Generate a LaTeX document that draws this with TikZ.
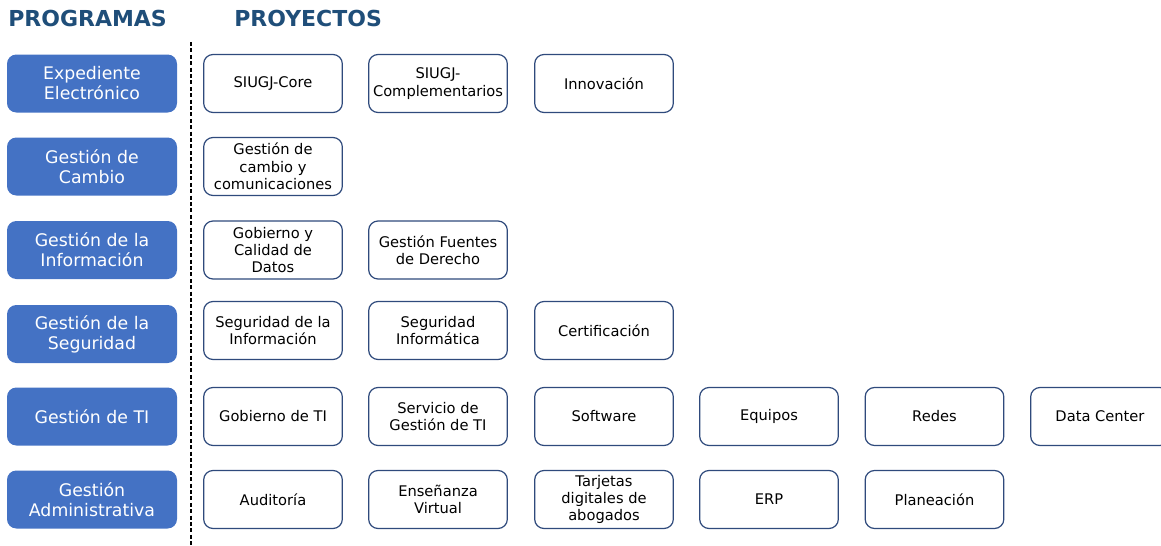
\documentclass[tikz,border=0pt]{standalone}
\usepackage{fontspec}
\setmainfont{DejaVu Sans}
\definecolor{progblue}{HTML}{4472C4}
\definecolor{titleblue}{HTML}{1F4E79}
\definecolor{projline}{HTML}{2F4A7C}
\tikzset{
  programa/.style={rectangle, rounded corners=7pt, fill=progblue, text=white,
    minimum width=127.5pt, minimum height=43.5pt, inner sep=0pt, align=center,
    font=\fontsize{13}{15}\selectfont},
  proyecto/.style={rectangle, rounded corners=7pt, draw=projline, line width=0.9pt,
    fill=white, minimum width=104pt, minimum height=43.5pt, inner sep=0pt,
    align=center, font=\fontsize{11}{13}\selectfont},
  titulo/.style={anchor=west, inner sep=0pt, text=titleblue,
    font=\fontsize{16.5}{19}\bfseries\selectfont}
}
\begin{document}
\begin{tikzpicture}[x=0.75pt,y=-0.75pt]
  \useasboundingbox (0,0) rectangle (1161,546);
  % encabezados
  \node[titulo] (hprog) at (8,18) {PROGRAMAS};
  \node[titulo] (hproy) at (234,18) {PROYECTOS};
  \draw[dash pattern=on 3pt off 1.8pt,line width=0.9pt] (191,42) -- (191,546);

  % programas
  \node[programa] (expediente) at (92,83.5) {Expediente\\Electrónico};
  \node[programa] (cambio) at (92,166.5) {Gestión de\\Cambio};
  \node[programa] (informacion) at (92,250) {Gestión de la\\Información};
  \node[programa] (seguridad) at (92,334) {Gestión de la\\Seguridad};
  \node[programa] (ti) at (92,416.5) {Gestión de TI};
  \node[programa] (administrativa) at (92,499.5) {Gestión\\Administrativa};

  % proyectos
  \node[proyecto] (core) at (273,83.5) {SIUGJ-Core};
  \node[proyecto] (complementarios) at (438,83.5) {SIUGJ-\\Complementarios};
  \node[proyecto] (innovacion) at (604,83.5) {Innovación};

  \node[proyecto] (comunicaciones) at (273,166.5) {Gestión de\\cambio y\\comunicaciones};

  \node[proyecto] (datos) at (273,250) {Gobierno y\\Calidad de\\Datos};
  \node[proyecto] (fuentes) at (438,250) {Gestión Fuentes\\de Derecho};

  \node[proyecto] (seginfo) at (273,330.5) {Seguridad de la\\Información};
  \node[proyecto] (seginformatica) at (438,330.5) {Seguridad\\Informática};
  \node[proyecto] (certificacion) at (604,330.5) {Certificación};

  \node[proyecto] (gobti) at (273,416.5) {Gobierno de TI};
  \node[proyecto] (servicio) at (438,416.5) {Servicio de\\Gestión de TI};
  \node[proyecto] (software) at (604,416.5) {Software};
  \node[proyecto] (equipos) at (769,416.5) {Equipos};
  \node[proyecto] (redes) at (934.5,416.5) {Redes};
  \node[proyecto] (datacenter) at (1100,416.5) {Data Center};

  \node[proyecto] (auditoria) at (273,499.5) {Auditoría};
  \node[proyecto] (ensenanza) at (438,499.5) {Enseñanza\\Virtual};
  \node[proyecto] (tarjetas) at (604,499.5) {Tarjetas\\digitales de\\abogados};
  \node[proyecto] (erp) at (769,499.5) {ERP};
  \node[proyecto] (planeacion) at (934.5,499.5) {Planeación};
\end{tikzpicture}
\end{document}
